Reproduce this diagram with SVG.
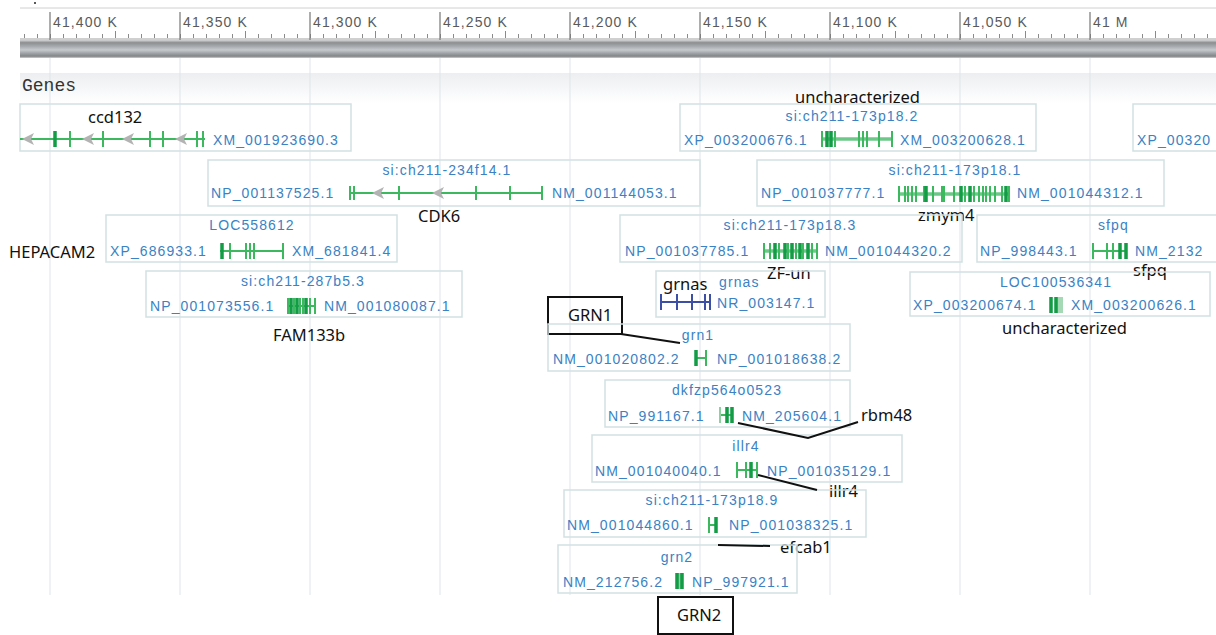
<svg xmlns="http://www.w3.org/2000/svg" width="1216" height="635" viewBox="0 0 1216 635">
<defs>
<linearGradient id="bar" x1="0" y1="0" x2="0" y2="1">
<stop offset="0" stop-color="#d4d6d8"/>
<stop offset="0.15" stop-color="#8c8e90"/>
<stop offset="0.35" stop-color="#a6aaae"/>
<stop offset="0.55" stop-color="#c6cacd"/>
<stop offset="0.75" stop-color="#9da1a5"/>
<stop offset="0.9" stop-color="#828486"/>
<stop offset="1" stop-color="#cfd0d2"/>
</linearGradient>
<linearGradient id="band" x1="0" y1="0" x2="0" y2="1">
<stop offset="0" stop-color="#eceef1"/>
<stop offset="1" stop-color="#ffffff"/>
</linearGradient>
<pattern id="mt" x="24" y="0" width="13" height="635" patternUnits="userSpaceOnUse">
<rect x="0" y="34" width="1" height="4" fill="#8a8a8a"/>
</pattern>
<pattern id="mid" x="115" y="0" width="130" height="635" patternUnits="userSpaceOnUse">
<rect x="0" y="31" width="1" height="7" fill="#8a8a8a"/>
</pattern>
<style>
.box{fill:none;stroke:#d2e1e2;stroke-width:1.5}
.t{font-family:"Liberation Sans",Arial,sans-serif;font-size:14px;fill:#3a82c4;letter-spacing:1.1px}
.c{text-anchor:middle}
.rl{font-family:"Liberation Sans",Arial,sans-serif;font-size:14px;fill:#5a5a5a;letter-spacing:1.1px}
.lab{font-family:"Noto Sans",sans-serif;font-size:16.5px;fill:#111}
.g{stroke:#3cb95f;stroke-width:2;fill:none}
.gl{stroke:#6cc888;stroke-width:3.5;fill:none}
.gk{stroke:#129c45;stroke-width:3.5;fill:none}
.ar{fill:#b3b3b3}
.ld{stroke:#111;stroke-width:2;fill:none}
.lb{fill:none;stroke:#111;stroke-width:2}
.grid{stroke:#dde5ea;stroke-width:1}
</style>
</defs>
<rect width="1216" height="635" fill="#fff"/>
<circle cx="35" cy="3" r="1" fill="#222"/>
<g id="ruler">
<line x1="20" y1="8" x2="1216" y2="8" stroke="#d0d0d0"/>
<rect x="20" y="30" width="1196" height="9" fill="url(#mt)"/>
<rect x="20" y="30" width="1196" height="9" fill="url(#mid)"/>
<line x1="20" y1="39" x2="1216" y2="39" stroke="#a0a0a0"/>
<path d="M50 12V40M180 12V40M310 12V40M440 12V40M570 12V40M700 12V40M830 12V40M960 12V40M1090 12V40" stroke="#777" stroke-width="1.2"/>
<text class="rl" x="53" y="27">41,400 K</text>
<text class="rl" x="183" y="27">41,350 K</text>
<text class="rl" x="313" y="27">41,300 K</text>
<text class="rl" x="443" y="27">41,250 K</text>
<text class="rl" x="573" y="27">41,200 K</text>
<text class="rl" x="703" y="27">41,150 K</text>
<text class="rl" x="833" y="27">41,100 K</text>
<text class="rl" x="963" y="27">41,050 K</text>
<text class="rl" x="1093" y="27">41 M</text>
<rect x="20" y="40" width="1196" height="18" fill="url(#bar)"/>
</g>
<rect x="20" y="73" width="1196" height="30" fill="url(#band)"/>
<g id="grid">
<path class="grid" d="M50 58V595M180 58V595M310 58V595M440 58V595M570 58V595M700 58V595M830 58V595M960 58V595M1090 58V595"/>
</g>
<text x="22" y="91" font-family="'Liberation Mono',monospace" font-size="18" fill="#333">Genes</text>

<g id="ccd132">
<rect class="box" x="20" y="104" width="331" height="47"/>
<text class="lab" x="88" y="123">ccd132</text>
<path class="g" d="M20 139H205"/>
<path class="g" d="M70 131v16M103 131v16M150 131v16M163 131v16M197 131v16M203 131v16"/>
<path class="gk" d="M55 131v16"/>
<path class="ar" d="M22 139l12-6-3 6 3 6zM82 139l12-6-3 6 3 6zM122 139l12-6-3 6 3 6zM175 139l12-6-3 6 3 6z"/>
<text class="t" x="213" y="145">XM_001923690.3</text>
</g>

<g id="si-ch211-173p18.2">
<rect class="box" x="680" y="104" width="356" height="47"/>
<text class="lab" x="795" y="103">uncharacterized</text>
<text class="t c" x="852" y="121">si:ch211-173p18.2</text>
<text class="t" x="684" y="145">XP_003200676.1</text>
<path class="gl" d="M821 139H892"/>
<path class="g" d="M822 131v16M835 131v16M859 131v16M863 131v16M867 131v16M879 131v16M892 131v16"/>
<path class="gk" d="M827 131v16M831 131v16"/>
<text class="t" x="900" y="145">XM_003200628.1</text>
</g>

<g id="xp-right">
<rect class="box" x="1133" y="104" width="100" height="47"/>
<text class="t" x="1137" y="145">XP_00320</text>
</g>

<g id="si-ch211-234f14.1">
<rect class="box" x="208" y="160" width="492" height="46"/>
<text class="t c" x="447" y="175">si:ch211-234f14.1</text>
<text class="t" x="211" y="198">NP_001137525.1</text>
<path class="g" d="M350 193H542"/>
<path class="g" d="M350 186v14M354 186v14M399 186v14M476 186v14M510 186v14M542 186v14"/>
<path class="ar" d="M372 193l12-6-3 6 3 6zM432 193l12-6-3 6 3 6z"/>
<text class="t" x="552" y="198">NM_001144053.1</text>
<text class="lab" x="418" y="222">CDK6</text>
</g>

<g id="si-ch211-173p18.1">
<rect class="box" x="757" y="160" width="407" height="46"/>
<text class="t c" x="955" y="175">si:ch211-173p18.1</text>
<text class="t" x="761" y="198">NP_001037777.1</text>
<path class="gl" d="M898 194H1009"/>
<path class="g" d="M899 186v16M905 186v16M908 186v16M912 186v16M916 186v16M924 186v16M933 186v16M942 186v16M944 186v16M954 186v16M965 186v16M974 186v16M979 186v16M983 186v16M986 186v16M990 186v16M995 186v16M1002 186v16M1009 186v16"/>
<path class="gk" d="M926 186v16M961 186v16M970 186v16M1006 186v16"/>
<text class="t" x="1017" y="198">NM_001044312.1</text>
<text class="lab" x="918" y="221">zmym4</text>
</g>

<g id="LOC558612">
<rect class="box" x="106" y="215" width="291" height="47"/>
<text class="lab" x="9" y="258">HEPACAM2</text>
<text class="t c" x="252" y="230">LOC558612</text>
<text class="t" x="110" y="256">XP_686933.1</text>
<path class="g" d="M220 251H283"/>
<path class="g" d="M230 243v16M246 243v16M250 243v16M254 243v16M283 243v16"/>
<path class="gk" d="M222 243v16"/>
<text class="t" x="292" y="256">XM_681841.4</text>
</g>

<g id="si-ch211-173p18.3">
<rect class="box" x="620" y="215" width="342" height="47"/>
<text class="t c" x="790" y="230">si:ch211-173p18.3</text>
<text class="t" x="625" y="256">NP_001037785.1</text>
<path class="gl" d="M763 251H817"/>
<path class="g" d="M764 243v16M770 243v16M779 243v16M788 243v16M796 243v16M803 243v16M812 243v16M817 243v16"/>
<path class="gk" d="M775 243v16M785 243v16M792 243v16M800 243v16M808 243v16"/>
<text class="t" x="825" y="256">NM_001044320.2</text>
<text class="lab" x="767" y="279">ZF-un</text>
</g>

<g id="sfpq">
<rect class="box" x="977" y="215" width="250" height="47"/>
<text class="t" x="1098" y="230">sfpq</text>
<text class="t" x="980" y="256">NP_998443.1</text>
<path class="g" d="M1092 251H1127"/>
<path class="g" d="M1093 243v16M1107 243v16M1113 243v16"/>
<path class="gk" d="M1120 243v16M1126 243v16"/>
<text class="t" x="1135" y="256">NM_2132</text>
<text class="lab" x="1133" y="276">sfpq</text>
</g>

<g id="si-ch211-287b5.3">
<rect class="box" x="146" y="271" width="316" height="46"/>
<text class="t c" x="303" y="286">si:ch211-287b5.3</text>
<text class="t" x="150" y="311">NP_001073556.1</text>
<path class="g" d="M288 306H315"/>
<path class="g" d="M288 298v16M294 298v16M300 298v16M303 298v16M310 298v16M315 298v16"/>
<path class="gk" d="M291 298v16M297 298v16M306 298v16"/>
<text class="t" x="324" y="311">NM_001080087.1</text>
<text class="lab" x="273" y="341">FAM133b</text>
</g>

<g id="grnas">
<rect class="box" x="656" y="271" width="169" height="46"/>
<text class="lab" x="663" y="290">grnas</text>
<text class="t" x="719" y="287">grnas</text>
<path d="M661 302H710M661 294v16M677 294v16M692 294v16M705 294v16M710 294v16" stroke="#3d4ea6" stroke-width="2" fill="none"/>
<text class="t" x="717" y="308">NR_003147.1</text>
</g>

<g id="LOC100536341">
<rect class="box" x="910" y="272" width="300" height="44"/>
<text class="t c" x="1056" y="287">LOC100536341</text>
<text class="t" x="913" y="310">XP_003200674.1</text>
<rect x="1057" y="297" width="6" height="16" fill="#a5d9b5"/>
<path class="gk" d="M1051 297v16M1056 297v16"/>
<text class="t" x="1071" y="310">XM_003200626.1</text>
<text class="lab" x="1002" y="334">uncharacterized</text>
</g>

<g id="GRN1">
<rect class="lb" x="548" y="297" width="74" height="37"/>
<text class="lab" x="568" y="321">GRN1</text>
</g>

<g id="grn1">
<rect class="box" x="548" y="324" width="302" height="47"/>
<text class="t c" x="698" y="340">grn1</text>
<text class="t" x="553" y="364">NM_001020802.2</text>
<path class="g" d="M695 358H706M706 350v16"/>
<path class="gk" d="M696 350v16"/>
<text class="t" x="717" y="364">NP_001018638.2</text>
</g>

<g id="dkfzp564o0523">
<rect class="box" x="605" y="380" width="245" height="47"/>
<text class="t c" x="727" y="395">dkfzp564o0523</text>
<text class="t" x="608" y="421">NP_991167.1</text>
<path class="g" d="M720 415H733"/>
<path d="M720 407v16" stroke="#8fd0a0" stroke-width="2"/>
<path class="gk" d="M727 407v16M732 407v16"/>
<text class="t" x="742" y="421">NM_205604.1</text>
<text class="lab" x="861" y="421">rbm48</text>
</g>

<g id="illr4">
<rect class="box" x="592" y="435" width="310" height="47"/>
<text class="t c" x="746" y="451">illr4</text>
<text class="t" x="595" y="476">NM_001040040.1</text>
<path class="g" d="M736 470H758M737 462v16M746 462v16M757 462v16"/>
<path class="gk" d="M751 462v16"/>
<text class="t" x="767" y="476">NP_001035129.1</text>
<text class="lab" x="829" y="497">illr4</text>
</g>

<g id="si-ch211-173p18.9">
<rect class="box" x="564" y="490" width="302" height="47"/>
<text class="t c" x="712" y="505">si:ch211-173p18.9</text>
<text class="t" x="567" y="530">NM_001044860.1</text>
<path class="g" d="M709 525H716M709 517v16"/>
<path class="gk" d="M716 517v16"/>
<text class="t" x="729" y="530">NP_001038325.1</text>
<text class="lab" x="780" y="553">efcab1</text>
</g>

<g id="grn2">
<rect class="box" x="558" y="545" width="239" height="48"/>
<text class="t c" x="677" y="562">grn2</text>
<text class="t" x="563" y="587">NM_212756.2</text>
<rect x="676" y="573" width="7" height="16" fill="#8fd3a3"/>
<path class="gk" d="M677 573v16M682 573v16"/>
<text class="t" x="692" y="587">NP_997921.1</text>
</g>

<g id="GRN2">
<rect class="lb" x="658" y="597" width="75" height="37"/>
<text class="lab" x="677" y="621">GRN2</text>
</g>

<g id="connectors">
<path class="ld" d="M621 334L680 343"/>
<path class="ld" d="M738 423L808 438L858 422"/>
<path class="ld" d="M758 475L817 490"/>
<path class="ld" d="M718 545L770 546"/>
</g>
</svg>
